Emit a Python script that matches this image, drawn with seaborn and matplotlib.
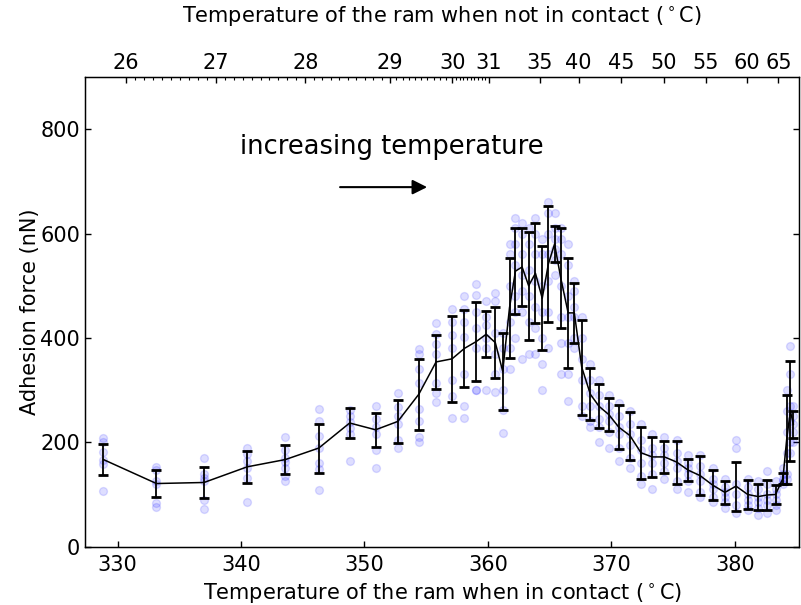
import numpy as np
import pandas as pd
import matplotlib
matplotlib.use("Agg")
import matplotlib.pyplot as plt
import seaborn as sns

# contact temperature of each measurement group
temp = [328.85, 333.15, 337.0, 340.5, 343.6, 346.3, 348.8, 350.9, 352.7, 354.4,
        355.8, 357.1, 358.1, 359.05, 359.86, 360.6, 361.2, 361.75, 362.23, 362.77,
        363.3, 363.85, 364.4, 364.9, 365.4, 365.9, 366.5, 367.0, 367.6, 368.3,
        369.0, 369.8, 370.6, 371.5, 372.4, 373.3, 374.3, 375.3, 376.2, 377.2,
        378.2, 379.2, 380.1, 381.05, 381.9, 382.6, 383.3, 383.9, 384.2, 384.5, 384.75]

mean_force = [167, 121, 123, 153, 167, 189, 237, 224, 240, 292,
              354, 360, 380, 393, 407, 391, 336, 458, 528, 536,
              500, 524, 476, 542, 580, 515, 448, 448, 344, 292,
              269, 253, 229, 213, 180, 172, 172, 162, 147, 136,
              118, 104, 116, 100, 96, 99, 100, 131, 205, 260, 234]

std_force = [30, 26, 30, 31, 27, 47, 28, 33, 41, 68,
             52, 82, 74, 75, 44, 68, 74, 96, 83, 74,
             103, 96, 100, 111, 35, 95, 105, 57, 91, 50,
             42, 32, 42, 46, 50, 39, 30, 41, 21, 37,
             28, 22, 47, 27, 25, 28, 18, 10, 85, 95, 26]

# individual measurements for each group
raw_force = [
    [208, 200, 182, 167, 158, 106],
    [153, 147, 126, 120, 83, 76],
    [170, 140, 131, 126, 90, 72],
    [190, 178, 165, 150, 131, 86],
    [211, 186, 170, 163, 151, 135, 126],
    [264, 240, 212, 190, 160, 148, 108],
    [262, 250, 238, 228, 215, 165],
    [270, 245, 230, 215, 185, 150],
    [295, 268, 250, 235, 205, 190],
    [378, 370, 340, 314, 263, 240, 211, 200],
    [428, 408, 388, 370, 313, 295, 277],
    [455, 430, 405, 380, 320, 288, 247],
    [481, 455, 430, 402, 330, 270, 247],
    [503, 482, 450, 420, 380, 301, 300],
    [471, 440, 425, 400, 380, 301],
    [487, 470, 410, 370, 330, 296],
    [410, 380, 340, 300, 262, 218],
    [580, 560, 500, 430, 380, 340],
    [630, 610, 580, 540, 480, 450, 400],
    [620, 600, 560, 520, 490, 450, 360],
    [610, 580, 530, 480, 430, 370],
    [630, 600, 560, 510, 460, 420, 370],
    [590, 560, 500, 450, 400, 350, 300],
    [660, 640, 600, 560, 510, 450, 380],
    [640, 610, 590, 570, 550, 520],
    [610, 590, 560, 500, 440, 390, 330],
    [580, 540, 480, 440, 390, 330, 280],
    [510, 490, 460, 440, 400, 380],
    [440, 400, 360, 320, 270, 250],
    [350, 320, 295, 270, 240, 230],
    [320, 290, 270, 245, 230, 200],
    [290, 270, 255, 240, 220, 190],
    [275, 250, 230, 215, 190, 165],
    [260, 235, 215, 195, 170, 150],
    [235, 205, 185, 160, 135, 120],
    [215, 190, 175, 160, 140, 110],
    [210, 190, 175, 160, 145, 130],
    [205, 180, 165, 150, 125, 110],
    [175, 160, 150, 140, 125, 105],
    [175, 155, 140, 125, 105, 95],
    [150, 130, 120, 110, 95, 85],
    [130, 115, 105, 95, 85, 75],
    [205, 190, 120, 100, 80, 65],
    [130, 115, 100, 90, 80, 70],
    [125, 110, 95, 85, 75, 60],
    [145, 120, 100, 90, 80, 65],
    [125, 110, 100, 90, 80, 70],
    [150, 140, 130, 125, 120],
    [300, 260, 220, 180, 140, 130],
    [385, 330, 270, 240, 200, 180],
    [270, 250, 235, 220, 200],
]

# top axis: temperature when not in contact, and where it sits on the contact scale
top_labels = [26, 27, 28, 29, 30, 31, 35, 40, 45, 50, 55, 60, 65]
top_pos = [330.70, 337.95, 345.21, 352.09, 357.11, 360.09, 364.18,
           367.35, 370.81, 374.23, 377.65, 381.0, 383.53]

#%%
raw = pd.DataFrame({
    "temp": np.repeat(temp, [len(r) for r in raw_force]),
    "force": np.concatenate(raw_force),
})

sns.set_style("ticks")
plt.rcParams["font.family"] = ["DejaVu Sans"]
plt.rcParams["xtick.direction"] = "in"
plt.rcParams["ytick.direction"] = "in"
for key in ["text.color", "axes.labelcolor", "xtick.color", "ytick.color", "axes.edgecolor"]:
    plt.rcParams[key] = "black"

fig = plt.figure(figsize=(8.01, 6.05), dpi=100)
ax = fig.add_axes([0.1067, 0.0964, 0.8908, 0.7763])

sns.scatterplot(data=raw, x="temp", y="force", color="blue", alpha=0.13,
                s=32, edgecolor="blue", linewidth=1, ax=ax, zorder=1)
ax.errorbar(temp, mean_force, yerr=std_force, fmt="none", ecolor="k",
            elinewidth=1.3, capsize=3.5, capthick=2, zorder=3)
sns.lineplot(x=temp, y=mean_force, color="k", lw=1.1, ax=ax, zorder=4)

ax.set_xlim(327.4, 385.2)
ax.set_ylim(0, 900)
ax.set_xticks([330, 340, 350, 360, 370, 380])
ax.set_yticks([0, 200, 400, 600, 800])
ax.tick_params(labelsize=15, length=4, width=1, right=True)
ax.tick_params(axis="x", pad=6)
ax.tick_params(axis="y", pad=4)
ax.set_xlabel("Temperature of the ram when in contact ($^\\circ$C)", fontsize=15, labelpad=4)
ax.set_ylabel("Adhesion force (nN)", fontsize=15, labelpad=0)
for s in ax.spines.values():
    s.set_linewidth(1)

ax.text(352.2, 766, "increasing temperature", ha="center", va="center", fontsize=18.5)
ax.annotate("", xy=(355.3, 689), xytext=(347.8, 689),
            arrowprops=dict(arrowstyle="-|>", color="k", lw=1.5, mutation_scale=22))

ax2 = ax.twiny()
ax2.set_xlim(ax.get_xlim())
ax2.set_xticks(top_pos)
ax2.set_xticklabels(top_labels)
minor = np.interp(np.arange(26, 31, 0.1), top_labels[:6], top_pos[:6])
ax2.set_xticks(minor, minor=True)
ax2.tick_params(axis="x", labelsize=15, length=4, width=1, pad=3)
ax2.tick_params(axis="x", which="minor", length=2, width=0.8)
ax2.set_xlabel("Temperature of the ram when not in contact ($^\\circ$C)", fontsize=15, labelpad=22)

fig.savefig("out.png", dpi=100)
